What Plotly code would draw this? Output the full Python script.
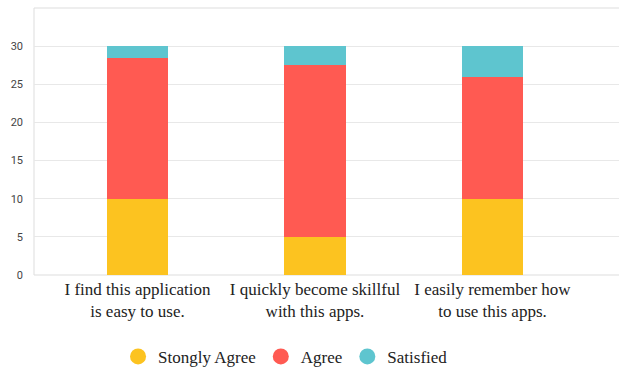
import plotly.graph_objects as go

categories = ["I find this application<br>is easy to use.",
              "I quickly become skillful<br>with this apps.",
              "I easily remember how<br>to use this apps."]
series_names = ["Stongly Agree", "Agree", "Satisfied"]
strongly_agree = [10, 5, 10]
agree = [18.5, 22.5, 16]
satisfied = [1.5, 2.5, 4]
colors = ["#FCC320", "#FF5A52", "#5EC5CF"]
y_ticks = [0, 5, 10, 15, 20, 25, 30]

SERIF = "Liberation Serif"

xpos = list(range(len(categories)))
fig = go.Figure()
for name, vals, col in zip(series_names, [strongly_agree, agree, satisfied], colors):
    fig.add_trace(go.Bar(x=xpos, y=vals, name=name, marker=dict(color=col, line=dict(width=0)),
                         width=0.345, showlegend=False))
for name, col in zip(series_names, colors):
    fig.add_trace(go.Scatter(x=[None], y=[None], mode="markers", name=name,
                             marker=dict(symbol="circle", size=16, color=col)))

fig.update_layout(
    barmode="stack",
    width=619, height=371,
    margin=dict(l=34, r=0, t=8, b=96, autoexpand=False),
    plot_bgcolor="white", paper_bgcolor="white",
    showlegend=True,
    legend=dict(orientation="h", traceorder="normal", x=0.43, xanchor="center",
                yref="container", y=0.038, yanchor="middle",
                font=dict(family=SERIF, size=17, color="#222222"),
                itemwidth=30, tracegroupgap=0),
    xaxis=dict(tickmode="array", tickvals=xpos, ticktext=categories,
               range=[-0.583, 2.713], showgrid=False, zeroline=False,
               showline=False, ticks="", ticklabelstandoff=2, automargin=False,
               tickfont=dict(family=SERIF, size=17, color="#222222")),
    yaxis=dict(range=[0, 35], tickvals=y_ticks, showgrid=True, gridcolor="#E8E8E8",
               gridwidth=1, zeroline=False, showline=False, ticks="",
               ticklabelstandoff=10, automargin=False,
               tickfont=dict(family="Roboto", size=11, color="#444444")),
)
fig.add_shape(type="rect", xref="paper", yref="paper", x0=0, x1=1.01, y0=0, y1=1,
              line=dict(color="#DDDDDD", width=1), layer="below")

fig.write_html("out.html")
